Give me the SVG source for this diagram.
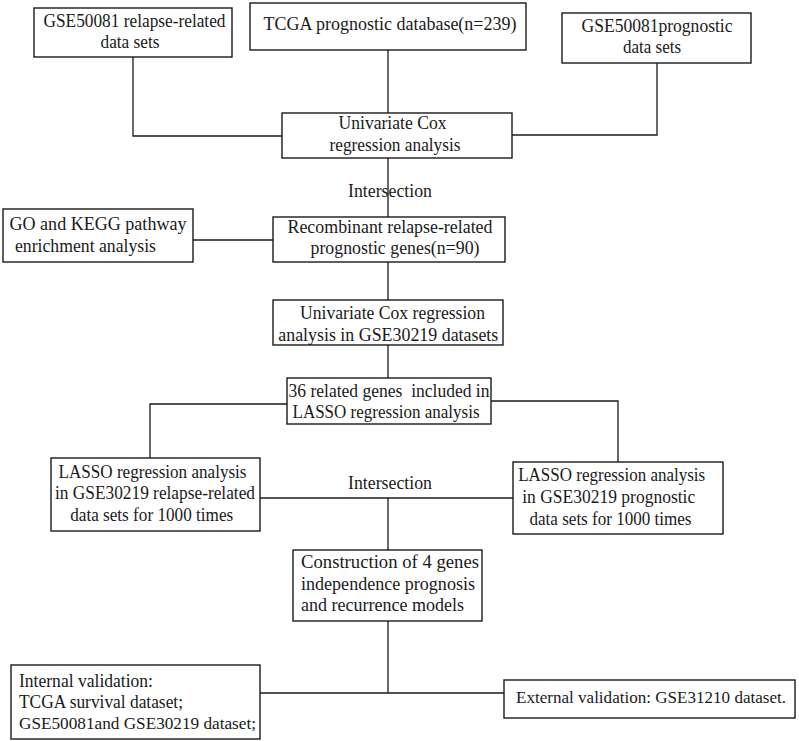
<svg xmlns="http://www.w3.org/2000/svg" width="799" height="741" viewBox="0 0 799 741">
<style>
.box{fill:#fff;stroke:#1a1a1a;stroke-width:1.4}
.ln{fill:none;stroke:#1a1a1a;stroke-width:1.3}
text{font-family:'Liberation Serif','Tinos','Times New Roman',serif;font-size:18px;fill:#1a1a1a}
.m{text-anchor:middle}
</style>
<rect width="799" height="741" fill="#fff"/>
<g id="connectors">
<polyline class="ln" points="133,57 133,136 282,136"/>
<line class="ln" x1="388" y1="50" x2="388" y2="113"/>
<polyline class="ln" points="657,63 657,135 512,135"/>
<line class="ln" x1="388" y1="158" x2="388" y2="217"/>
<line class="ln" x1="193" y1="240" x2="273" y2="240"/>
<line class="ln" x1="388" y1="262" x2="388" y2="300"/>
<line class="ln" x1="388" y1="345" x2="388" y2="378"/>
<polyline class="ln" points="287,404 150,404 150,458"/>
<polyline class="ln" points="491,401 618,401 618,462"/>
<line class="ln" x1="260" y1="498" x2="513" y2="498"/>
<line class="ln" x1="388" y1="498" x2="388" y2="550"/>
<line class="ln" x1="388" y1="621" x2="388" y2="693"/>
<line class="ln" x1="260" y1="693" x2="504" y2="693"/>
<text class="m" x="390" y="197" textLength="84" lengthAdjust="spacingAndGlyphs">Intersection</text>
<text class="m" x="390" y="489" textLength="84" lengthAdjust="spacingAndGlyphs">Intersection</text>
</g>
<g id="n1"><rect class="box" x="34" y="8" width="198" height="49"/>
<text class="m" x="134.5" y="27" textLength="182" lengthAdjust="spacingAndGlyphs">GSE50081 relapse-related</text><text class="m" x="130" y="48" textLength="59" lengthAdjust="spacingAndGlyphs">data sets</text></g>
<g id="n2"><rect class="box" x="250" y="3" width="276" height="47"/>
<text class="m" x="390" y="30" textLength="253" lengthAdjust="spacingAndGlyphs">TCGA prognostic database(n=239)</text></g>
<g id="n3"><rect class="box" x="562" y="13" width="189" height="50"/>
<text class="m" x="657" y="32" textLength="151" lengthAdjust="spacingAndGlyphs">GSE50081prognostic</text><text class="m" x="652" y="53" textLength="58" lengthAdjust="spacingAndGlyphs">data sets</text></g>
<g id="n4"><rect class="box" x="282" y="113" width="230" height="45"/>
<text class="m" x="392.5" y="129" textLength="108" lengthAdjust="spacingAndGlyphs">Univariate Cox</text><text class="m" x="395" y="151" textLength="131" lengthAdjust="spacingAndGlyphs">regression analysis</text></g>
<g id="n5"><rect class="box" x="3" y="209" width="190" height="53"/>
<text class="m" x="98" y="230" textLength="177" lengthAdjust="spacingAndGlyphs">GO and KEGG pathway</text><text class="m" x="85.5" y="252" textLength="141" lengthAdjust="spacingAndGlyphs">enrichment analysis</text></g>
<g id="n6"><rect class="box" x="273" y="217" width="232" height="45"/>
<text class="m" x="390" y="233" textLength="205" lengthAdjust="spacingAndGlyphs">Recombinant relapse-related</text><text class="m" x="395" y="254" textLength="169" lengthAdjust="spacingAndGlyphs">prognostic genes(n=90)</text></g>
<g id="n7"><rect class="box" x="273" y="300" width="230" height="45"/>
<text class="m" x="392.5" y="319" textLength="185" lengthAdjust="spacingAndGlyphs">Univariate Cox regression</text><text class="m" x="388.3" y="340.5" textLength="220" lengthAdjust="spacingAndGlyphs">analysis in GSE30219 datasets</text></g>
<g id="n8"><rect class="box" x="287" y="378" width="204" height="46"/>
<text class="m" x="389" y="397" xml:space="preserve" textLength="201" lengthAdjust="spacingAndGlyphs">36 related genes  included in</text><text class="m" x="386" y="418" textLength="187" lengthAdjust="spacingAndGlyphs">LASSO regression analysis</text></g>
<g id="n9"><rect class="box" x="51" y="458" width="209" height="73"/>
<text class="m" x="152.5" y="478" textLength="188" lengthAdjust="spacingAndGlyphs">LASSO regression analysis</text><text class="m" x="155" y="499" textLength="200" lengthAdjust="spacingAndGlyphs">in GSE30219 relapse-related</text><text class="m" x="151.7" y="521" textLength="163" lengthAdjust="spacingAndGlyphs">data sets for 1000 times</text></g>
<g id="n10"><rect class="box" x="513" y="462" width="210" height="72"/>
<text class="m" x="611.7" y="481" textLength="187" lengthAdjust="spacingAndGlyphs">LASSO regression analysis</text><text class="m" x="608.7" y="503" textLength="173" lengthAdjust="spacingAndGlyphs">in GSE30219 prognostic</text><text class="m" x="610.5" y="525" textLength="162" lengthAdjust="spacingAndGlyphs">data sets for 1000 times</text></g>
<g id="n11"><rect class="box" x="293" y="550" width="189" height="71"/>
<text x="301" y="568" textLength="178" lengthAdjust="spacingAndGlyphs">Construction of 4 genes</text><text x="301" y="590" textLength="174" lengthAdjust="spacingAndGlyphs">independence prognosis</text><text x="301" y="611" textLength="163" lengthAdjust="spacingAndGlyphs">and recurrence models</text></g>
<g id="n12"><rect class="box" x="11" y="665" width="249" height="74"/>
<text x="19" y="687" textLength="134" lengthAdjust="spacingAndGlyphs">Internal validation:</text><text x="19" y="708" textLength="164" lengthAdjust="spacingAndGlyphs">TCGA survival dataset;</text><text x="19" y="729" style="font-size:17.4px" textLength="237" lengthAdjust="spacingAndGlyphs">GSE50081and GSE30219 dataset;</text></g>
<g id="n13"><rect class="box" x="504" y="680" width="291" height="38"/>
<text x="516" y="703" style="font-size:17px" textLength="270" lengthAdjust="spacingAndGlyphs">External validation: GSE31210 dataset.</text></g>
</svg>
